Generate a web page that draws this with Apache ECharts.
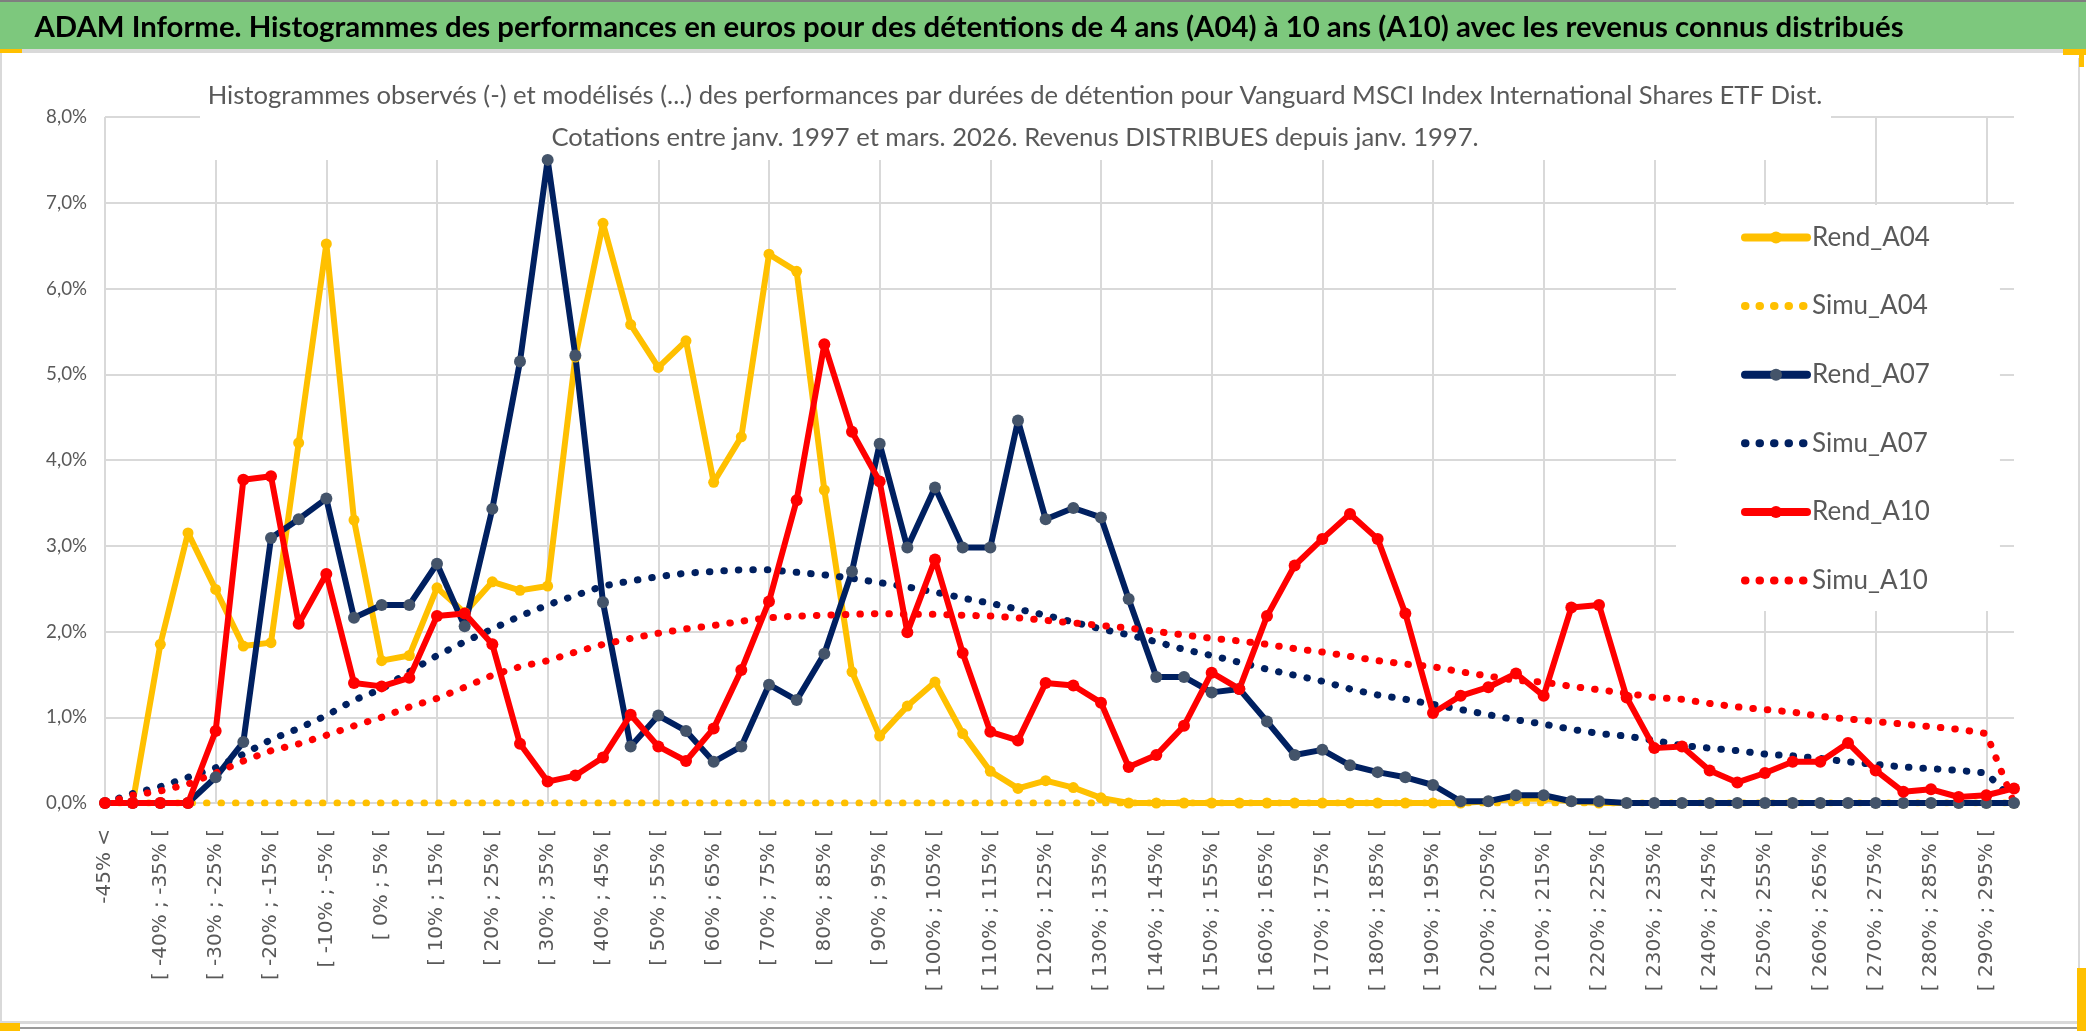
<!DOCTYPE html>
<html><head><meta charset="utf-8">
<script src="https://cdn.jsdelivr.net/npm/echarts@6/dist/echarts.min.js"></script>
<style>html,body{margin:0;padding:0;background:#fff}#c{width:2086px;height:1031px}</style>
</head><body><div id="c"></div>
<script>
const categories = [
"-45% <","[ -45% ; -40% [","[ -40% ; -35% [","[ -35% ; -30% [","[ -30% ; -25% [","[ -25% ; -20% [","[ -20% ; -15% [","[ -15% ; -10% [","[ -10% ; -5% [","[ -5% ; 0% [",
"[ 0% ; 5% [","[ 5% ; 10% [","[ 10% ; 15% [","[ 15% ; 20% [","[ 20% ; 25% [","[ 25% ; 30% [","[ 30% ; 35% [","[ 35% ; 40% [","[ 40% ; 45% [","[ 45% ; 50% [",
"[ 50% ; 55% [","[ 55% ; 60% [","[ 60% ; 65% [","[ 65% ; 70% [","[ 70% ; 75% [","[ 75% ; 80% [","[ 80% ; 85% [","[ 85% ; 90% [","[ 90% ; 95% [","[ 95% ; 100% [",
"[ 100% ; 105% [","[ 105% ; 110% [","[ 110% ; 115% [","[ 115% ; 120% [","[ 120% ; 125% [","[ 125% ; 130% [","[ 130% ; 135% [","[ 135% ; 140% [","[ 140% ; 145% [","[ 145% ; 150% [",
"[ 150% ; 155% [","[ 155% ; 160% [","[ 160% ; 165% [","[ 165% ; 170% [","[ 170% ; 175% [","[ 175% ; 180% [","[ 180% ; 185% [","[ 185% ; 190% [","[ 190% ; 195% [","[ 195% ; 200% [",
"[ 200% ; 205% [","[ 205% ; 210% [","[ 210% ; 215% [","[ 215% ; 220% [","[ 220% ; 225% [","[ 225% ; 230% [","[ 230% ; 235% [","[ 235% ; 240% [","[ 240% ; 245% [","[ 245% ; 250% [",
"[ 250% ; 255% [","[ 255% ; 260% [","[ 260% ; 265% [","[ 265% ; 270% [","[ 270% ; 275% [","[ 275% ; 280% [","[ 280% ; 285% [","[ 285% ; 290% [","[ 290% ; 295% [","[ 295% ; 300% ["
];

const rendA04 = [0,0,1.85,3.15,2.49,1.83,1.87,4.20,6.52,3.30,
1.66,1.72,2.51,2.22,2.58,2.48,2.53,5.20,6.76,5.58,
5.08,5.39,3.74,4.27,6.40,6.20,3.65,1.53,0.78,1.13,
1.41,0.81,0.37,0.17,0.26,0.18,0.06,0,0,0,
0,0,0,0,0,0,0,0,0,0,
0.02,0.05,0.05,0.02,0,0,0,0,0,0,
0,0,0,0,0,0,0,0,0,0];

const simuA04 = [0,0,0,0,0,0,0,0,0,0,
0,0,0,0,0,0,0,0,0,0,
0,0,0,0,0,0,0,0,0,0,
0,0,0,0,0,0,0,0,0,0,
0,0,0,0,0,0,0,0,0,0,
0,0,0,0,0,0,0,0,0,0,
0,0,0,0,0,0,0,0,0,0];

const rendA07 = [0,0,0,0,0.30,0.71,3.09,3.31,3.55,2.16,
2.31,2.31,2.79,2.06,3.43,5.15,7.50,5.22,2.34,0.66,
1.02,0.84,0.48,0.66,1.38,1.20,1.74,2.70,4.19,2.98,
3.68,2.98,2.98,4.46,3.31,3.44,3.33,2.38,1.47,1.47,
1.29,1.33,0.95,0.56,0.62,0.44,0.36,0.30,0.21,0.02,
0.02,0.09,0.09,0.02,0.02,0,0,0,0,0,
0,0,0,0,0,0,0,0,0,0];

const simuA07 = [0,0.11,0.19,0.30,0.41,0.57,0.74,0.87,1.02,1.20,
1.33,1.53,1.72,1.88,2.03,2.18,2.31,2.42,2.53,2.59,
2.64,2.68,2.70,2.72,2.72,2.69,2.66,2.62,2.57,2.52,
2.46,2.39,2.33,2.26,2.19,2.11,2.03,1.96,1.88,1.79,
1.72,1.64,1.56,1.49,1.42,1.33,1.26,1.21,1.15,1.09,
1.03,0.97,0.92,0.86,0.81,0.78,0.73,0.67,0.64,0.61,
0.57,0.55,0.52,0.48,0.45,0.42,0.40,0.38,0.35,0.02];

const rendA10 = [0,0,0,0,0.84,3.77,3.81,2.09,2.67,1.40,
1.36,1.46,2.18,2.21,1.85,0.69,0.25,0.32,0.53,1.03,
0.66,0.49,0.87,1.55,2.35,3.53,5.35,4.33,3.75,1.99,
2.84,1.75,0.83,0.73,1.40,1.37,1.17,0.42,0.56,0.90,
1.52,1.33,2.18,2.77,3.08,3.37,3.08,2.21,1.05,1.25,
1.35,1.51,1.25,2.28,2.31,1.23,0.64,0.66,0.38,0.24,
0.35,0.48,0.48,0.70,0.38,0.13,0.16,0.07,0.09,0.17];

const simuA10 = [0,0.09,0.14,0.22,0.35,0.49,0.61,0.69,0.79,0.90,
1.00,1.12,1.22,1.35,1.49,1.59,1.66,1.76,1.85,1.92,
1.98,2.03,2.07,2.12,2.16,2.18,2.19,2.20,2.21,2.20,
2.20,2.19,2.18,2.16,2.13,2.10,2.07,2.04,2.00,1.96,
1.92,1.89,1.85,1.80,1.76,1.71,1.66,1.62,1.59,1.53,
1.48,1.43,1.41,1.36,1.32,1.28,1.23,1.21,1.16,1.12,
1.09,1.06,1.01,0.98,0.95,0.92,0.89,0.86,0.81,0];

const seriesNames = ["Rend_A04","Simu_A04","Rend_A07","Simu_A07","Rend_A10","Simu_A10"];
const mainTitle = "ADAM Informe. Histogrammes des performances en euros pour des détentions de 4 ans (A04) à 10 ans (A10) avec les revenus connus distribués";
const subLine1 = "Histogrammes observés (-) et modélisés (...) des performances par durées de détention pour Vanguard MSCI Index International Shares ETF Dist.";
const subLine2 = "Cotations entre janv. 1997 et mars. 2026. Revenus DISTRIBUES depuis janv. 1997.";

// --- font helpers (pick an installed family, size text to the reference's width)
const ctx = document.createElement('canvas').getContext('2d');
function pickFont(cands, weight) {
  const s = 'abcdefghijklmnopqrstuvwxyzABCDEFGHIJ0123456789';
  for (const f of cands) {
    ctx.font = weight + ' 40px monospace'; const w0 = ctx.measureText(s).width;
    ctx.font = weight + ' 40px "' + f + '", monospace'; const w1 = ctx.measureText(s).width;
    if (Math.abs(w1 - w0) > 1) return f;
  }
  return 'sans-serif';
}
function fitSize(text, fam, weight, target, maxSize) {
  ctx.font = weight + ' 100px "' + fam + '"';
  const w = ctx.measureText(text).width;
  return Math.min(maxSize, 100 * target / w);
}
const CANDS = ['Lato', 'Liberation Sans Narrow', 'DejaVu Sans Condensed', 'Liberation Sans'];
const famBold = pickFont(CANDS, 'bold');
const famReg = pickFont(CANDS, 'normal');
const titleSize = fitSize(mainTitle, famBold, 'bold', 1870, 34);
const subSize = fitSize(subLine1, famReg, 'normal', 1615, 32);
const legSize = fitSize('Rend_A04', famReg, 'normal', 118, 30);
const ySize = fitSize('8,0%', famReg, 'normal', 41, 22);

const GOLD = '#FFC000', NAVY = '#002060', NAVYM = '#44546A', RED = '#FF0000', GRID = '#D9D9D9', TXT = '#595959';

const chart = echarts.init(document.getElementById('c'), null, {renderer: 'canvas'});

function obs(name, data, color, mcolor, size) {
  return {name, type: 'line', data, symbol: 'circle', symbolSize: size, showAllSymbol: true,
    lineStyle: {color, width: 6, cap: 'round', join: 'round'}, itemStyle: {color: mcolor},
    emphasis: {disabled: true}, z: 2};
}
function sim(name, data, color) {
  return {name, type: 'line', data, symbol: 'none', showSymbol: false,
    lineStyle: {color, width: 7, type: [0.5, 14], cap: 'round'}, itemStyle: {color},
    emphasis: {disabled: true}, z: 2};
}

const option = {
  animation: false,
  backgroundColor: '#fff',
  grid: {left: 105, right: 72, top: 117, bottom: 228},
  xAxis: {
    type: 'category', data: categories, boundaryGap: false,
    axisLine: {show: true, lineStyle: {color: GRID, width: 2}},
    axisTick: {show: false},
    axisLabel: {interval: 1, rotate: 90, margin: 26, color: TXT, fontFamily: 'DejaVu Sans', fontSize: 20},
    splitLine: {show: true, interval: (i) => i % 4 === 0, lineStyle: {color: GRID, width: 2}}
  },
  yAxis: {
    type: 'value', min: 0, max: 8, interval: 1,
    axisLine: {show: false}, axisTick: {show: false},
    axisLabel: {formatter: v => v.toFixed(1).replace('.', ',') + '%', color: TXT, fontFamily: famReg, fontSize: ySize, margin: 18},
    splitLine: {lineStyle: {color: GRID, width: 2}}
  },
  legend: {
    orient: 'vertical', left: 1676, top: 205, padding: [19.5, 70, 17.5, 65],
    itemWidth: 62, itemHeight: 15, itemGap: 42.6, backgroundColor: '#fff',
    lineStyle: {width: 8},
    textStyle: {color: TXT, fontFamily: famReg, fontSize: legSize},
    data: [
      {name: 'Rend_A04'},
      {name: 'Simu_A04', itemStyle: {opacity: 0}},
      {name: 'Rend_A07'},
      {name: 'Simu_A07', itemStyle: {opacity: 0}},
      {name: 'Rend_A10'},
      {name: 'Simu_A10', itemStyle: {opacity: 0}}
    ],
    selectedMode: false, z: 4
  },
  graphic: [
    {type: 'rect', z: 0, shape: {x: 0, y: 0, width: 2086, height: 2}, style: {fill: '#7f7f7f'}},
    {type: 'rect', z: 0, shape: {x: 0, y: 2, width: 2086, height: 47}, style: {fill: '#7DC87D'}},
    {type: 'rect', z: 0, shape: {x: 0, y: 49, width: 2086, height: 4}, style: {fill: '#D9D9D9'}},
    {type: 'text', z: 10, x: 969, y: 28, style: {text: mainTitle, fill: '#000', fontFamily: famBold, fontWeight: 'bold', fontSize: titleSize, align: 'center', verticalAlign: 'middle'}},
    {type: 'rect', z: 1, shape: {x: 200, y: 60, width: 1631, height: 100}, style: {fill: '#fff'}},
    {type: 'text', z: 10, x: 1015, y: 96, style: {text: subLine1, fill: TXT, fontFamily: famReg, fontSize: subSize, align: 'center', verticalAlign: 'middle'}},
    {type: 'text', z: 10, x: 1015, y: 138, style: {text: subLine2, fill: TXT, fontFamily: famReg, fontSize: subSize, align: 'center', verticalAlign: 'middle'}},
    {type: 'rect', z: 0, shape: {x: 0, y: 53, width: 2, height: 969}, style: {fill: '#D9D9D9'}},
    {type: 'rect', z: 0, shape: {x: 2078, y: 58, width: 2, height: 964}, style: {fill: '#D9D9D9'}},
    {type: 'rect', z: 0, shape: {x: 0, y: 1021, width: 2086, height: 3}, style: {fill: '#D9D9D9'}},
    {type: 'rect', z: 0, shape: {x: 0, y: 1027, width: 2086, height: 2}, style: {fill: '#9a9a9a'}},
    {type: 'rect', z: 0, shape: {x: 0, y: 1023, width: 20, height: 8}, style: {fill: GOLD}},
    {type: 'rect', z: 0, shape: {x: 0, y: 49, width: 22, height: 4}, style: {fill: GOLD}},
    {type: 'rect', z: 0, shape: {x: 2063, y: 49, width: 23, height: 6}, style: {fill: GOLD}},
    {type: 'rect', z: 0, shape: {x: 2079, y: 49, width: 5, height: 18}, style: {fill: GOLD}},
    {type: 'rect', z: 0, shape: {x: 2077, y: 968, width: 9, height: 63}, style: {fill: GOLD}}
  ],
  series: [
    obs('Rend_A04', rendA04, GOLD, GOLD, 11),
    sim('Simu_A04', simuA04, GOLD),
    obs('Rend_A07', rendA07, NAVY, NAVYM, 12),
    sim('Simu_A07', simuA07, NAVY),
    obs('Rend_A10', rendA10, RED, RED, 12),
    sim('Simu_A10', simuA10, RED)
  ]
};
chart.setOption(option);
</script></body></html>
